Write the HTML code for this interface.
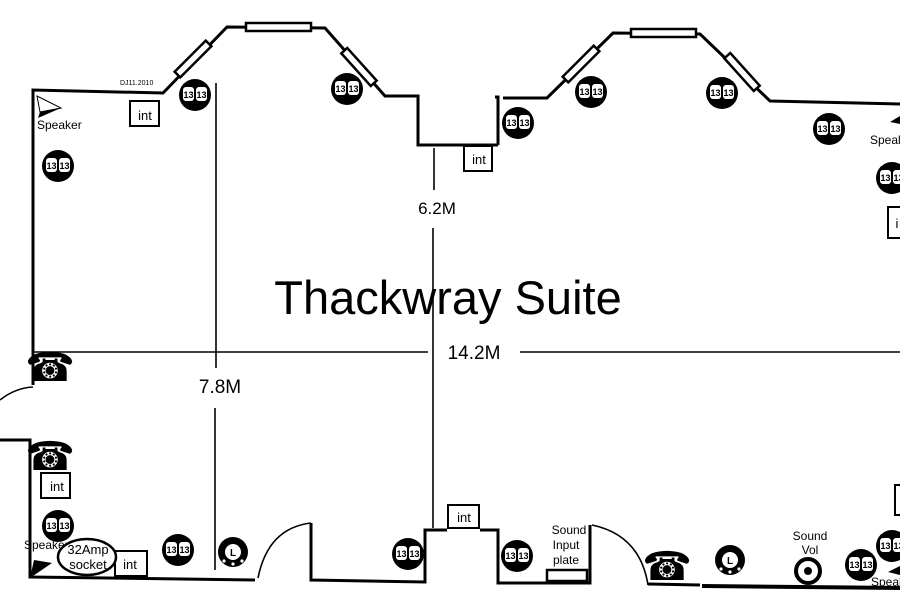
<!DOCTYPE html>
<html><head><meta charset="utf-8"><style>
html,body{margin:0;padding:0;background:#fff}
svg{display:block}
text{font-family:"Liberation Sans","DejaVu Sans",sans-serif}
.o text{font-size:9px;font-weight:bold;text-anchor:middle;fill:#000}
.w{fill:none;stroke:#000;stroke-width:3}
.t{fill:none;stroke:#000;stroke-width:2}
.l{fill:none;stroke:#000;stroke-width:1.6}
.lb{font-size:13px;text-anchor:middle}
</style></head><body>
<svg width="900" height="600" viewBox="0 0 900 600" xmlns="http://www.w3.org/2000/svg">
<defs></defs>
<!-- walls -->
<polyline class="w" points="33,385 33,90 163,93 227,27 325,28 385,96 418,96 418,145 498,145"/>
<polyline class="w" points="495,97 498,97 498,145"/>
<polyline class="w" points="503,98 547,98 613,33 700,34 770,101 900,104"/>
<!-- windows -->
<g fill="#fff" stroke="#000" stroke-width="2.5">
<rect x="-22" y="-4" width="44" height="8" transform="translate(193,59) rotate(-45)"/>
<rect x="246" y="23" width="65" height="8"/>
<rect x="-22" y="-4" width="44" height="8" transform="translate(359,67) rotate(48)"/>
<rect x="-22" y="-4" width="44" height="8" transform="translate(581,64) rotate(-45)"/>
<rect x="631" y="29" width="65" height="8"/>
<rect x="-22" y="-4" width="44" height="8" transform="translate(742,72) rotate(48)"/>
</g>
<path class="l" d="M0,400 Q15,388 33,387"/>
<polyline class="w" points="0,440 30,440 30,577 255,580"/>
<path class="l" d="M258,578 Q268,528 311,523"/>
<polyline class="w" points="311,523 311,580 425,582 425,530 447,530"/>
<polyline class="w" points="480,530 498,530 498,583 588,583 590,583 590,525"/>
<path class="l" d="M592,525 Q640,535 648,585"/>
<polyline class="w" points="648,584 700,585"/>
<polyline class="w" points="702,586 900,588" style="stroke-width:4"/>
<!-- dimension lines -->
<line class="l" x1="33" y1="352" x2="428" y2="352"/>
<line class="l" x1="520" y1="352" x2="900" y2="352"/>
<text x="474" y="359" style="font-size:19px" text-anchor="middle">14.2M</text>
<line class="l" x1="216" y1="83" x2="216" y2="368"/>
<line class="l" x1="215" y1="408" x2="215" y2="570"/>
<text x="220" y="393" style="font-size:19px" text-anchor="middle">7.8M</text>
<line class="l" x1="434" y1="148" x2="434" y2="190"/>
<line class="l" x1="433" y1="228" x2="433" y2="528"/>
<text x="437" y="214" style="font-size:17px" text-anchor="middle">6.2M</text>
<text x="448" y="314" style="font-size:47px" text-anchor="middle">Thackwray Suite</text>
<text x="120" y="85" style="font-size:7px">DJ11.2010</text>
<!-- int boxes -->
<g class="t"><rect x="130" y="101" width="29" height="25"/><rect x="464" y="146" width="28" height="25"/><rect x="41" y="473" width="29" height="25"/><rect x="115" y="551" width="32" height="25"/><rect x="448" y="505" width="31" height="23"/><rect x="888" y="207" width="14" height="31"/><rect x="895" y="485" width="8" height="30"/></g>
<g style="font-size:13px" text-anchor="middle"><text x="145" y="120">int</text><text x="479" y="164">int</text><text x="57" y="491">int</text><text x="130" y="569">int</text><text x="464" y="522">int</text><text x="897" y="228">i</text></g>
<!-- speakers -->
<path d="M37,96 L61,108 L40,112 Z" fill="#fff" stroke="#000" stroke-width="1"/><path d="M40,112 L61,108 L38,118 Z" fill="#000"/>
<text x="37" y="129" style="font-size:12px">Speaker</text>
<text x="24" y="549" style="font-size:12px">Speaker</text>
<path d="M34,560 L52,563 L30,578 Z" fill="#000"/>
<text x="870" y="144" style="font-size:12px">Speal</text>
<path d="M900,116 L890,122 L900,124" fill="#000"/>
<text x="871" y="586" style="font-size:12px">Speal</text>
<path d="M900,566 L888,572 L900,575" fill="#000"/>
<!-- 32 amp -->
<ellipse cx="87" cy="557" rx="29" ry="18" fill="#fff" stroke="#000" stroke-width="2.5"/>
<text x="88" y="554" class="lb">32Amp</text><text x="88" y="569" class="lb">socket</text>
<!-- sound -->
<text x="569" y="534" style="font-size:12px" text-anchor="middle">Sound</text>
<text x="566" y="549" style="font-size:12px" text-anchor="middle">Input</text>
<text x="566" y="564" style="font-size:12px" text-anchor="middle">plate</text>
<rect x="547" y="570" width="40" height="11" fill="none" stroke="#000" stroke-width="2.5"/>
<text x="810" y="540" style="font-size:12px" text-anchor="middle">Sound</text>
<text x="810" y="554" style="font-size:12px" text-anchor="middle">Vol</text>
<circle cx="808" cy="571" r="12" fill="none" stroke="#000" stroke-width="4"/><circle cx="808" cy="571" r="4"/>
<!-- phones -->
<g style="font-size:40px" text-anchor="middle" font-family="DejaVu Sans"><text x="50" y="381" style="font-family:'DejaVu Sans'">☎</text><text x="50" y="470" style="font-family:'DejaVu Sans'">☎</text><text x="667" y="580" style="font-family:'DejaVu Sans'">☎</text></g>
<!-- L icons -->
<g transform="translate(233,552)"><circle r="15"/><circle r="8" fill="#fff"/><text y="4" text-anchor="middle" style="font-size:10px;font-weight:bold">L</text><circle cx="-9" cy="9" r="1.6" fill="#fff"/><circle cx="0" cy="12" r="1.6" fill="#fff"/><circle cx="9" cy="9" r="1.6" fill="#fff"/></g>
<g transform="translate(730,560)"><circle r="15"/><circle r="8" fill="#fff"/><text y="4" text-anchor="middle" style="font-size:10px;font-weight:bold">L</text><circle cx="-9" cy="9" r="1.6" fill="#fff"/><circle cx="0" cy="12" r="1.6" fill="#fff"/><circle cx="9" cy="9" r="1.6" fill="#fff"/></g>
<!-- outlets -->
<g class="o">
<g transform="translate(195,95)"><circle r="16"/><rect x="-12" y="-8" width="11" height="14" rx="3" fill="#fff"/><rect x="1" y="-8" width="11" height="14" rx="3" fill="#fff"/><text x="-6.5" y="3">13</text><text x="6.5" y="3">13</text></g>
<g transform="translate(347,89)"><circle r="16"/><rect x="-12" y="-8" width="11" height="14" rx="3" fill="#fff"/><rect x="1" y="-8" width="11" height="14" rx="3" fill="#fff"/><text x="-6.5" y="3">13</text><text x="6.5" y="3">13</text></g>
<g transform="translate(58,166)"><circle r="16"/><rect x="-12" y="-8" width="11" height="14" rx="3" fill="#fff"/><rect x="1" y="-8" width="11" height="14" rx="3" fill="#fff"/><text x="-6.5" y="3">13</text><text x="6.5" y="3">13</text></g>
<g transform="translate(518,123)"><circle r="16"/><rect x="-12" y="-8" width="11" height="14" rx="3" fill="#fff"/><rect x="1" y="-8" width="11" height="14" rx="3" fill="#fff"/><text x="-6.5" y="3">13</text><text x="6.5" y="3">13</text></g>
<g transform="translate(591,92)"><circle r="16"/><rect x="-12" y="-8" width="11" height="14" rx="3" fill="#fff"/><rect x="1" y="-8" width="11" height="14" rx="3" fill="#fff"/><text x="-6.5" y="3">13</text><text x="6.5" y="3">13</text></g>
<g transform="translate(722,93)"><circle r="16"/><rect x="-12" y="-8" width="11" height="14" rx="3" fill="#fff"/><rect x="1" y="-8" width="11" height="14" rx="3" fill="#fff"/><text x="-6.5" y="3">13</text><text x="6.5" y="3">13</text></g>
<g transform="translate(829,129)"><circle r="16"/><rect x="-12" y="-8" width="11" height="14" rx="3" fill="#fff"/><rect x="1" y="-8" width="11" height="14" rx="3" fill="#fff"/><text x="-6.5" y="3">13</text><text x="6.5" y="3">13</text></g>
<g transform="translate(892,178)"><circle r="16"/><rect x="-12" y="-8" width="11" height="14" rx="3" fill="#fff"/><rect x="1" y="-8" width="11" height="14" rx="3" fill="#fff"/><text x="-6.5" y="3">13</text><text x="6.5" y="3">13</text></g>
<g transform="translate(58,526)"><circle r="16"/><rect x="-12" y="-8" width="11" height="14" rx="3" fill="#fff"/><rect x="1" y="-8" width="11" height="14" rx="3" fill="#fff"/><text x="-6.5" y="3">13</text><text x="6.5" y="3">13</text></g>
<g transform="translate(178,550)"><circle r="16"/><rect x="-12" y="-8" width="11" height="14" rx="3" fill="#fff"/><rect x="1" y="-8" width="11" height="14" rx="3" fill="#fff"/><text x="-6.5" y="3">13</text><text x="6.5" y="3">13</text></g>
<g transform="translate(408,554)"><circle r="16"/><rect x="-12" y="-8" width="11" height="14" rx="3" fill="#fff"/><rect x="1" y="-8" width="11" height="14" rx="3" fill="#fff"/><text x="-6.5" y="3">13</text><text x="6.5" y="3">13</text></g>
<g transform="translate(517,556)"><circle r="16"/><rect x="-12" y="-8" width="11" height="14" rx="3" fill="#fff"/><rect x="1" y="-8" width="11" height="14" rx="3" fill="#fff"/><text x="-6.5" y="3">13</text><text x="6.5" y="3">13</text></g>
<g transform="translate(861,565)"><circle r="16"/><rect x="-12" y="-8" width="11" height="14" rx="3" fill="#fff"/><rect x="1" y="-8" width="11" height="14" rx="3" fill="#fff"/><text x="-6.5" y="3">13</text><text x="6.5" y="3">13</text></g>
<g transform="translate(892,546)"><circle r="16"/><rect x="-12" y="-8" width="11" height="14" rx="3" fill="#fff"/><rect x="1" y="-8" width="11" height="14" rx="3" fill="#fff"/><text x="-6.5" y="3">13</text><text x="6.5" y="3">13</text></g>
</g>
</svg>
</body></html>
